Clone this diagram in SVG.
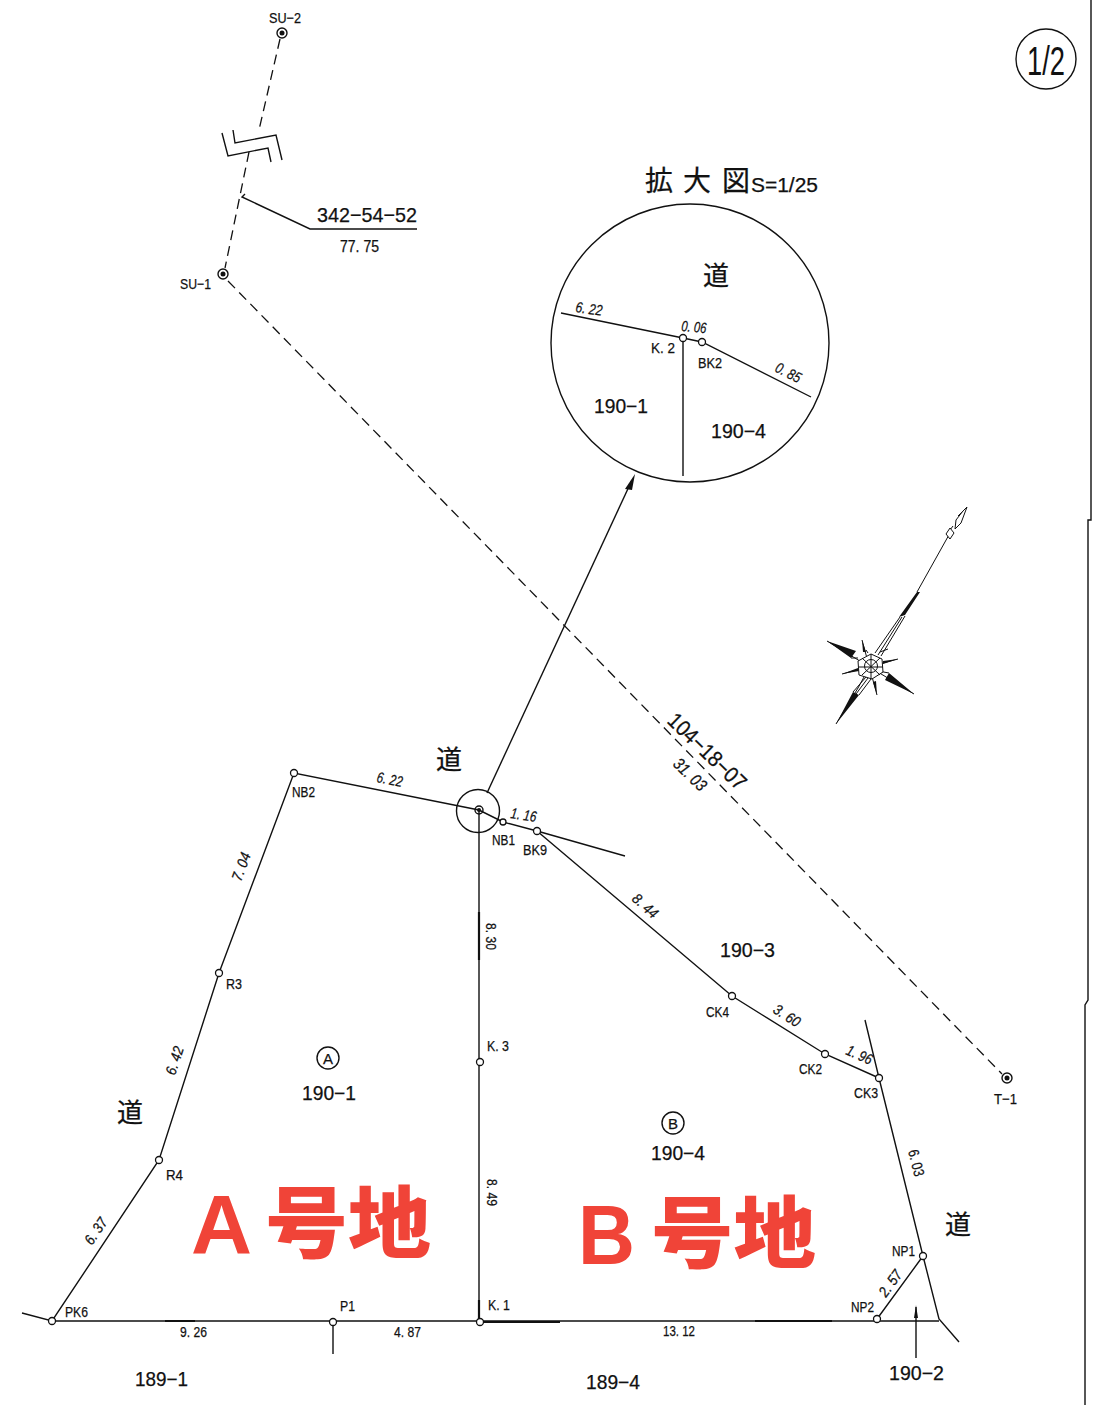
<svg xmlns="http://www.w3.org/2000/svg" width="1096" height="1405" viewBox="0 0 1096 1405">
<style>
text{font-family:"Liberation Sans","Noto Sans CJK JP",sans-serif;fill:#111;stroke:#111;stroke-width:.25}
.l{fill:none;stroke:#111;stroke-width:1.4}
.t{fill:none;stroke:#111;stroke-width:1}
.d{fill:none;stroke:#111;stroke-width:1.3;stroke-dasharray:10 6}
.p{fill:#fff;stroke:#111;stroke-width:1.3}
.c{fill:#111;stroke:none}
.s{font-size:15px}
.m{font-size:20px}
.k{font-size:26px;font-family:"Noto Sans CJK JP",sans-serif}
.r{font-size:84px;font-weight:700;fill:#f04438;stroke:none;font-family:"Liberation Sans",sans-serif}
.rj{font-size:78px;font-weight:900;fill:#f04438;stroke:none;font-family:"Noto Sans CJK JP",sans-serif}
</style>
<rect width="1096" height="1405" fill="#fff"/>
<g id="connectors">
<path class="l" d="M1091 0V520L1088 520V1000L1085 1005V1405" stroke-width="1.2"/>
<path class="d" d="M280 39L259 130M249 152L225 268"/>
<path class="d" d="M228 281L1002 1074"/>
<path class="l" d="M222 133L228 156L268 148L271 162M233 130L235 143L276 135L282 160"/>
<path class="l" d="M245 194L242 197L310 229H417"/>
<path class="l" d="M22 1313L52 1321L159 1160L219 973L294 773L479 810L503 822L537 831L625 856M537 831L732 996L825 1054L879 1078M865 1020L879 1078L923 1256L939 1319L959 1342M923 1256L877 1319"/>
<path class="l" d="M52 1321H939M333 1321V1354M479 810V1321"/>
<path d="M479 912V960M479 1300V1321M480 1322H560M755 1321H832M165 1321H195" stroke="#111" stroke-width="2.2" fill="none"/>
<circle class="l" cx="478" cy="811" r="21.500"/>
<path class="l" d="M487 793L632 480"/>
<path class="c" d="M635 474L625 489L632 490Z"/>
<circle class="l" cx="690" cy="343" r="139"/>
<path class="l" d="M561 313L683 338L702 342L811 397M683 338V476"/>
<path class="l" d="M916 1307V1358"/>
<path class="c" d="M916 1305L914 1318H918Z"/>
</g>
<g id="compass">
<path class="t" d="M950 533L917 592M836 724L858 688M827 641L914 694M862 640L877 695M842 674L898 659"/>
<path class="c" d="M917 592L899 617L905 615L920 592ZM836 724L853 692L859 695ZM827 641L856 651L851 658ZM914 694L885 680L889 673ZM862 640L866 652L863 652ZM877 695L873 682L876 681ZM842 674L858 668L859 671ZM898 659L883 661L883 664Z"/>
<path class="t" d="M967 507L958 516M953 526L950 530"/>
<path d="M963 511L967 507L961 523L955 529L956 520ZM950 528L954 533L950 539L946 534Z" fill="#fff" stroke="#111"/>
<path class="t" d="M900 617L875 653M905 616L881 656M902 617L878 655M866 677L853 692M871 679L859 695M868 678L856 694"/>
<path class="c" d="M868 640L875 655L880 650L878 670L892 680L872 674L866 690L862 674L848 668L862 660Z" fill-opacity="0"/>
<path class="t" d="M880 652L888 649M878 671L889 673M864 677L858 688M858 658L851 658M868 653L866 650"/>
<path d="M871 654L882 659L883 672L872 679L859 675L858 661Z" fill="#fff" stroke="#111"/>
<circle class="t" cx="871" cy="666" r="6.500"/>
<path class="t" d="M871 654V679M859 667H883M862 658L880 675M880 658L862 675"/>
</g>
<g id="sheet-number"><circle class="l" cx="1046" cy="59" r="30"/><text x="1027" y="75" font-size="40" textLength="38" lengthAdjust="spacingAndGlyphs" style="stroke:none">1/2</text></g>
<g id="SU-2"><circle class="l" cx="282" cy="33" r="5"/><circle class="c" cx="282" cy="33" r="2.500"/><text x="269" y="23" class="s" textLength="32" lengthAdjust="spacingAndGlyphs">SU−2</text></g>
<g id="SU-1"><circle class="l" cx="223" cy="274" r="5"/><circle class="c" cx="223" cy="274" r="2.500"/><text x="180" y="289" class="s" textLength="31" lengthAdjust="spacingAndGlyphs">SU−1</text></g>
<g id="T-1"><circle class="l" cx="1007" cy="1078" r="5"/><circle class="c" cx="1007" cy="1078" r="2.500"/><text x="994" y="1104" class="s" textLength="23" lengthAdjust="spacingAndGlyphs">T−1</text></g>
<g id="NB2"><circle class="p" cx="294" cy="773" r="3.500"/><text x="292" y="797" class="s" textLength="23" lengthAdjust="spacingAndGlyphs">NB2</text></g>
<g id="K2-main"><circle class="l" cx="479" cy="810" r="4"/><circle class="c" cx="479" cy="810" r="2"/></g>
<g id="NB1"><circle class="p" cx="503" cy="822" r="3"/><text x="492" y="845" class="s" textLength="23" lengthAdjust="spacingAndGlyphs">NB1</text></g>
<g id="BK9"><circle class="p" cx="537" cy="831" r="3.500"/><text x="523" y="855" class="s" textLength="24" lengthAdjust="spacingAndGlyphs">BK9</text></g>
<g id="R3"><circle class="p" cx="219" cy="973" r="3.500"/><text x="226" y="989" class="s" textLength="16" lengthAdjust="spacingAndGlyphs">R3</text></g>
<g id="R4"><circle class="p" cx="159" cy="1160" r="3.500"/><text x="166" y="1180" class="s" textLength="17" lengthAdjust="spacingAndGlyphs">R4</text></g>
<g id="PK6"><circle class="p" cx="52" cy="1321" r="3.500"/><text x="65" y="1317" class="s" textLength="23" lengthAdjust="spacingAndGlyphs">PK6</text></g>
<g id="P1"><circle class="p" cx="333" cy="1322" r="3.500"/><text x="340" y="1311" class="s" textLength="15" lengthAdjust="spacingAndGlyphs">P1</text></g>
<g id="K1"><circle class="p" cx="480" cy="1322" r="3.500"/><text x="488" y="1310" class="s" textLength="22" lengthAdjust="spacingAndGlyphs">K. 1</text></g>
<g id="K3"><circle class="p" cx="480" cy="1062" r="3.500"/><text x="487" y="1051" class="s" textLength="22" lengthAdjust="spacingAndGlyphs">K. 3</text></g>
<g id="CK4"><circle class="p" cx="732" cy="996" r="3.500"/><text x="706" y="1017" class="s" textLength="23" lengthAdjust="spacingAndGlyphs">CK4</text></g>
<g id="CK2"><circle class="p" cx="825" cy="1054" r="3.500"/><text x="799" y="1074" class="s" textLength="23" lengthAdjust="spacingAndGlyphs">CK2</text></g>
<g id="CK3"><circle class="p" cx="879" cy="1078" r="3.500"/><text x="854" y="1098" class="s" textLength="24" lengthAdjust="spacingAndGlyphs">CK3</text></g>
<g id="NP1"><circle class="p" cx="923" cy="1256" r="3.500"/><text x="892" y="1256" class="s" textLength="23" lengthAdjust="spacingAndGlyphs">NP1</text></g>
<g id="NP2"><circle class="p" cx="877" cy="1319" r="3.500"/><text x="851" y="1312" class="s" textLength="23" lengthAdjust="spacingAndGlyphs">NP2</text></g>
<g id="K2-detail"><circle class="p" cx="683" cy="338" r="3.500"/><text x="651" y="353" class="s" textLength="24" lengthAdjust="spacingAndGlyphs">K. 2</text></g>
<g id="BK2-detail"><circle class="p" cx="702" cy="342" r="3.500"/><text x="698" y="368" class="s" textLength="24" lengthAdjust="spacingAndGlyphs">BK2</text></g>
<g id="labels">
<text x="645" y="191" font-size="28" style="font-family:'Noto Sans CJK JP',sans-serif">拡</text>
<text x="683" y="191" font-size="28" style="font-family:'Noto Sans CJK JP',sans-serif">大</text>
<text x="722" y="191" font-size="28" style="font-family:'Noto Sans CJK JP',sans-serif">図</text>
<text x="751" y="192" font-size="20" textLength="67" lengthAdjust="spacingAndGlyphs">S=1/25</text>
<text x="317" y="222" font-size="21" textLength="100" lengthAdjust="spacingAndGlyphs">342−54−52</text>
<text x="340" y="252" font-size="16" textLength="39" lengthAdjust="spacingAndGlyphs">77. 75</text>
<text x="703" y="285" class="k">道</text>
<text x="436" y="769" class="k">道</text>
<text x="117" y="1122" class="k">道</text>
<text x="945" y="1234" class="k">道</text>
<text x="594" y="413" class="m" textLength="54" lengthAdjust="spacingAndGlyphs">190−1</text>
<text x="711" y="438" class="m" textLength="55" lengthAdjust="spacingAndGlyphs">190−4</text>
<text x="720" y="957" class="m" textLength="55" lengthAdjust="spacingAndGlyphs">190−3</text>
<text x="302" y="1100" class="m" textLength="54" lengthAdjust="spacingAndGlyphs">190−1</text>
<text x="651" y="1160" class="m" textLength="54" lengthAdjust="spacingAndGlyphs">190−4</text>
<text x="135" y="1386" class="m" textLength="53" lengthAdjust="spacingAndGlyphs">189−1</text>
<text x="586" y="1389" class="m" textLength="54" lengthAdjust="spacingAndGlyphs">189−4</text>
<text x="889" y="1380" class="m" textLength="55" lengthAdjust="spacingAndGlyphs">190−2</text>
<circle class="l" cx="328" cy="1058" r="11"/><text x="323" y="1064" font-size="15">A</text>
<circle class="l" cx="673" cy="1123" r="11"/><text x="668" y="1129" font-size="15">B</text>
<text x="191" y="1254" class="r" textLength="61" lengthAdjust="spacingAndGlyphs">A</text><text x="265" y="1252" class="rj" textLength="166" lengthAdjust="spacingAndGlyphs">号地</text>
<text x="578" y="1264" class="r" textLength="57" lengthAdjust="spacingAndGlyphs">B</text><text x="651" y="1262" class="rj" textLength="165" lengthAdjust="spacingAndGlyphs">号地</text>
<g font-size="15" font-style="italic">
<text transform="translate(376 782) rotate(11)" textLength="26" lengthAdjust="spacingAndGlyphs">6. 22</text>
<text transform="translate(510 818) rotate(9)" textLength="26" lengthAdjust="spacingAndGlyphs">1. 16</text>
<text transform="translate(631 900) rotate(42)" textLength="29" lengthAdjust="spacingAndGlyphs">8. 44</text>
<text transform="translate(772 1012) rotate(33)" textLength="29" lengthAdjust="spacingAndGlyphs">3. 60</text>
<text transform="translate(845 1054) rotate(24)" textLength="27" lengthAdjust="spacingAndGlyphs">1. 96</text>
<text transform="translate(241 882) rotate(-70)" textLength="29" lengthAdjust="spacingAndGlyphs">7. 04</text>
<text transform="translate(175 1076) rotate(-72)" textLength="29" lengthAdjust="spacingAndGlyphs">6. 42</text>
<text transform="translate(92 1246) rotate(-56)" textLength="29" lengthAdjust="spacingAndGlyphs">6. 37</text>
<text transform="translate(886 1298) rotate(-54)" textLength="29" lengthAdjust="spacingAndGlyphs">2. 57</text>
<text transform="translate(575 312) rotate(8)" textLength="27" lengthAdjust="spacingAndGlyphs">6. 22</text>
<text transform="translate(681 331) rotate(5)" textLength="25" lengthAdjust="spacingAndGlyphs">0. 06</text>
<text transform="translate(774 371) rotate(27)" textLength="27" lengthAdjust="spacingAndGlyphs">0. 85</text>
</g>
<g font-size="15">
<text transform="translate(486 923) rotate(90)" textLength="27" lengthAdjust="spacingAndGlyphs">8. 30</text>
<text transform="translate(487 1179) rotate(90)" textLength="27" lengthAdjust="spacingAndGlyphs">8. 49</text>
<text transform="translate(908 1151) rotate(76)" textLength="27" lengthAdjust="spacingAndGlyphs">6. 03</text>
<text x="180" y="1337" textLength="27" lengthAdjust="spacingAndGlyphs">9. 26</text>
<text x="394" y="1337" textLength="27" lengthAdjust="spacingAndGlyphs">4. 87</text>
<text x="663" y="1336" textLength="32" lengthAdjust="spacingAndGlyphs">13. 12</text>
</g>
<text transform="translate(666 722) rotate(44)" font-size="22" textLength="100" lengthAdjust="spacingAndGlyphs">104−18−07</text>
<text transform="translate(672 765) rotate(44)" font-size="17" font-style="italic" textLength="39" lengthAdjust="spacingAndGlyphs">31. 03</text>
</g>
</svg>
